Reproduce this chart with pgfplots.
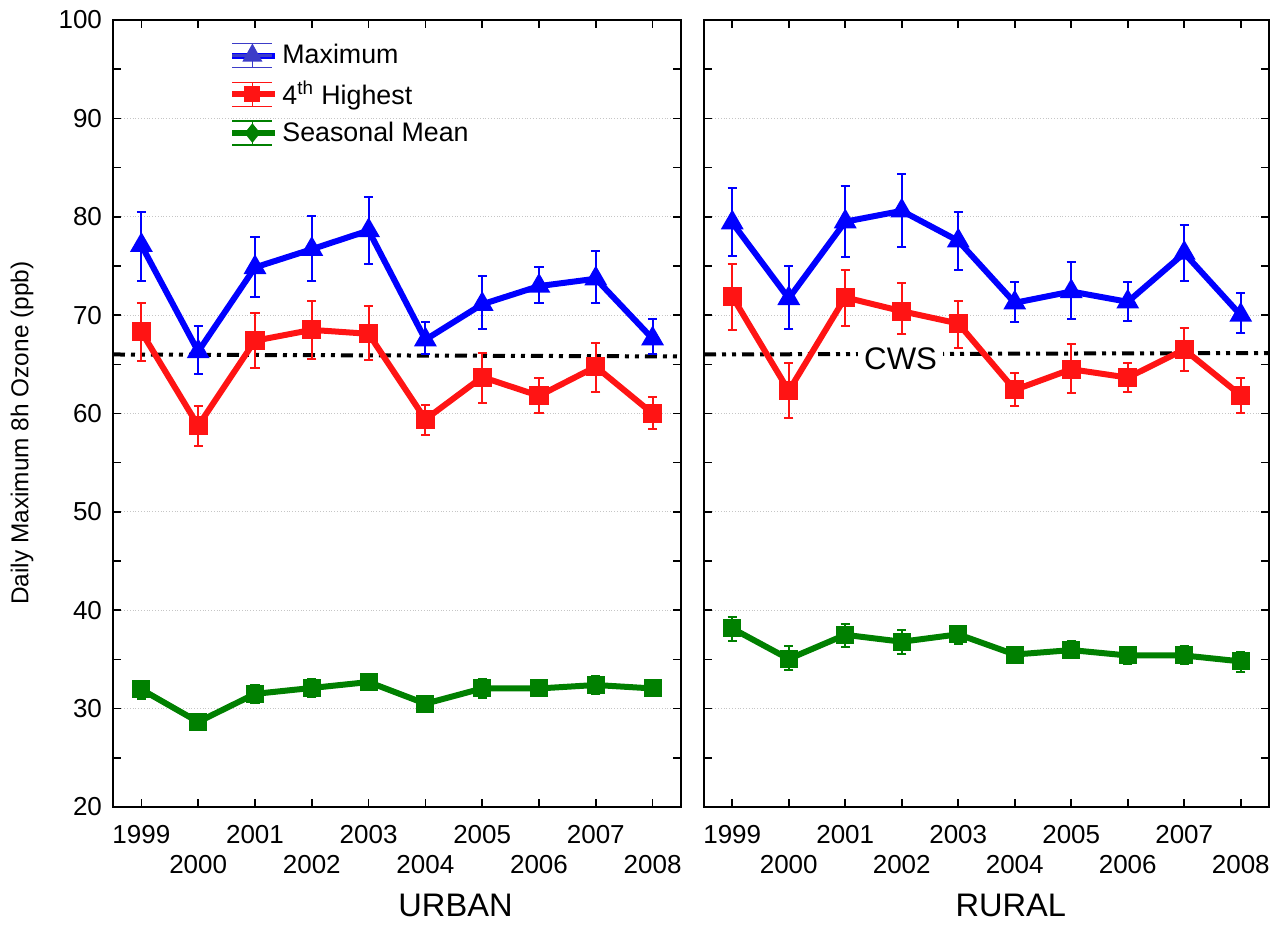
\documentclass[border=0pt]{standalone}
\usepackage{pgfplots}
\usepackage{pgfplotstable}
\pgfplotsset{compat=1.18}
\usepackage{fontspec}
\setmainfont{Liberation Sans}
\definecolor{cblue}{RGB}{0,0,255}
\definecolor{cred}{RGB}{255,20,20}
\definecolor{cgreen}{RGB}{0,128,0}
\definecolor{lblue}{RGB}{60,60,200}

\pgfplotstableread{
x y ep em
0 77.1 3.4 3.6
1 66.3 2.6 2.3
2 74.85 3.05 3.05
3 76.7 3.4 3.2
4 78.6 3.4 3.4
5 67.5 1.8 1.5
6 71.1 2.9 2.5
7 72.95 1.9 1.75
8 73.7 2.8 2.5
9 67.6 2.0 1.6
}\urbmax
\pgfplotstableread{
x y ep em
0 68.3 2.95 3.0
1 58.75 2.0 2.05
2 67.4 2.8 2.8
3 68.5 2.95 3.0
4 68.1 2.8 2.7
5 59.4 1.45 1.6
6 63.7 2.5 2.6
7 61.8 1.8 1.7
8 64.75 2.45 2.55
9 60.0 1.7 1.6
}\urbfourth
\pgfplotstableread{
x y ep em
0 31.95 0.85 0.95
1 28.65 0.6 0.55
2 31.5 0.9 0.9
3 32.1 0.9 0.95
4 32.7 0.75 0.8
5 30.5 0.7 0.7
6 32.05 1.0 1.0
7 32.05 0.7 0.65
8 32.4 0.9 0.95
9 32.05 0.75 0.75
}\urbmean
\pgfplotstableread{
x y ep em
0 79.4 3.55 3.4
1 71.7 3.3 3.1
2 79.5 3.65 3.6
3 80.6 3.7 3.65
4 77.55 2.95 2.95
5 71.25 2.15 1.95
6 72.4 3.0 2.8
7 71.35 2.0 1.95
8 76.3 2.85 2.8
9 70.0 2.2 1.8
}\rurmax
\pgfplotstableread{
x y ep em
0 71.9 3.25 3.4
1 62.3 2.8 2.8
2 71.8 2.8 2.9
3 70.4 2.9 2.3
4 69.15 2.25 2.45
5 62.4 1.7 1.65
6 64.5 2.6 2.4
7 63.65 1.5 1.45
8 66.5 2.2 2.2
9 61.85 1.75 1.8
}\rurfourth
\pgfplotstableread{
x y ep em
0 38.15 1.15 1.25
1 35.05 1.3 1.1
2 37.5 1.1 1.2
3 36.8 1.15 1.2
4 37.55 0.85 0.95
5 35.5 0.8 0.8
6 35.95 0.95 0.85
7 35.4 0.65 0.9
8 35.4 1.0 0.9
9 34.8 0.95 1.05
}\rurmean

\pgfplotsset{
  panel/.style={
    scale only axis, width=284pt, height=393.5pt,
    xmin=-0.5, xmax=9.5, ymin=20, ymax=100,
    ytick={20,30,...,100}, minor y tick num=1,
    xtick={0,2,4,6,8}, xticklabels={1999,2001,2003,2005,2007},
    extra x ticks={1,3,5,7,9}, extra x tick labels={2000,2002,2004,2006,2008},
    extra x tick style={xticklabel style={yshift=-15pt}, grid=none},
    tick align=inside, tick pos=both,
    ymajorgrids, grid style={densely dotted, gray!45, line width=0.4pt},
    axis line style={line width=0.9pt},
    tick style={line width=0.8pt, black},
    major tick length=4pt, minor tick length=4pt,
    ticklabel style={font=\fontsize{13}{15}\selectfont},
    yticklabel style={xshift=-2pt},
    xticklabel style={yshift=-5.5pt},
    /pgf/number format/assume math mode=true,
    clip=false,
  },
  ser/.style={line width=3pt, #1,
    error bars/y dir=both, error bars/y explicit,
    error bars/error bar style={line width=1pt, #1, solid},
    error bars/error mark options={rotate=90, mark size=2.3pt, line width=1pt, #1}},
  cws/.style={black, line width=2pt, no marks,
    dash pattern=on 6pt off 3pt on 2pt off 3pt on 2pt off 3pt},
}

\begin{document}
\begin{tikzpicture}
\useasboundingbox (-56.5pt,-59.5pt) rectangle (584.5pt,403.5pt);
\begin{axis}[panel,
  ylabel={Daily Maximum 8h Ozone (ppb)},
  ylabel style={at={(axis description cs:-0.1602,0.475)}, anchor=center,
    font=\fontsize{12.2}{14}\selectfont},
  xlabel={URBAN},
  xlabel style={at={(axis description cs:0.603,0)}, yshift=-49pt, anchor=center,
    inner sep=1pt, font=\fontsize{16.3}{19}\selectfont},
  legend style={at={(axis description cs:0,1)}, anchor=north west, xshift=55pt, yshift=-8pt,
    draw=none, fill=none, font=\fontsize{13.4}{16}\selectfont, row sep=3pt,
    cells={anchor=west}},
  legend cell align=left,
]
\addplot[cws, forget plot] coordinates {(-0.5,66.0) (9.5,65.8)};
\addplot[ser=cblue, mark=triangle*, mark size=3.6pt, mark options={solid, cblue},
  legend image code/.code={
    \path (0pt,0pt)--(21.5pt,0pt);
    \draw[lblue, line width=1.3pt] (0pt,0pt)--(20pt,0pt);
    \draw[lblue, line width=0.8pt] (10pt,-6pt)--(10pt,6pt) (0pt,6pt)--(20pt,6pt) (0pt,-6pt)--(20pt,-6pt);
    \fill[lblue] (10pt,3pt)--(7.5pt,-1.5pt)--(12.5pt,-1.5pt)--cycle;}]
  table[x=x, y=y, y error plus=ep, y error minus=em] {\urbmax};
\addlegendentry{Maximum}
\addplot[ser=cred, mark=square*, mark size=3.3pt, mark options={solid, cred},
  legend image code/.code={
    \path (0pt,0pt)--(21.5pt,0pt);
    \draw[cred, line width=1.3pt] (0pt,0pt)--(20pt,0pt);
    \draw[cred, line width=0.8pt] (10pt,-6pt)--(10pt,6pt) (0pt,6pt)--(20pt,6pt) (0pt,-6pt)--(20pt,-6pt);
    \fill[cred] (7.5pt,-2.5pt) rectangle (12.5pt,2.5pt);}]
  table[x=x, y=y, y error plus=ep, y error minus=em] {\urbfourth};
\addlegendentry{4\textsuperscript{th} Highest}
\addplot[ser=cgreen, mark=square*, mark size=3pt, mark options={solid, cgreen},
  legend image code/.code={
    \path (0pt,0pt)--(21.5pt,0pt);
    \draw[cgreen, line width=1.3pt] (0pt,0pt)--(20pt,0pt);
    \draw[cgreen, line width=0.8pt] (10pt,-6pt)--(10pt,6pt) (0pt,6pt)--(20pt,6pt) (0pt,-6pt)--(20pt,-6pt);
    \fill[cgreen] (10pt,2.5pt)--(12pt,0pt)--(10pt,-2.5pt)--(8pt,0pt)--cycle;}]
  table[x=x, y=y, y error plus=ep, y error minus=em] {\urbmean};
\addlegendentry{Seasonal Mean}
\end{axis}

\begin{axis}[panel, at={(295.5pt,0pt)}, width=282.5pt, yticklabels={},
  xlabel={RURAL},
  xlabel style={at={(axis description cs:0.543,0)}, yshift=-49pt, anchor=center,
    inner sep=1pt, font=\fontsize{16.3}{19}\selectfont},
]
\addplot[cws] coordinates {(-0.5,66.0) (9.5,66.15)};
\node[fill=white, inner sep=3pt, font=\fontsize{15.6}{18}\selectfont] at (axis cs:2.98,65.6) {CWS};
\addplot[ser=cblue, mark=triangle*, mark size=3.6pt, mark options={solid, cblue}]
  table[x=x, y=y, y error plus=ep, y error minus=em] {\rurmax};
\addplot[ser=cred, mark=square*, mark size=3.3pt, mark options={solid, cred}]
  table[x=x, y=y, y error plus=ep, y error minus=em] {\rurfourth};
\addplot[ser=cgreen, mark=square*, mark size=3pt, mark options={solid, cgreen}]
  table[x=x, y=y, y error plus=ep, y error minus=em] {\rurmean};
\end{axis}
\end{tikzpicture}
\end{document}
